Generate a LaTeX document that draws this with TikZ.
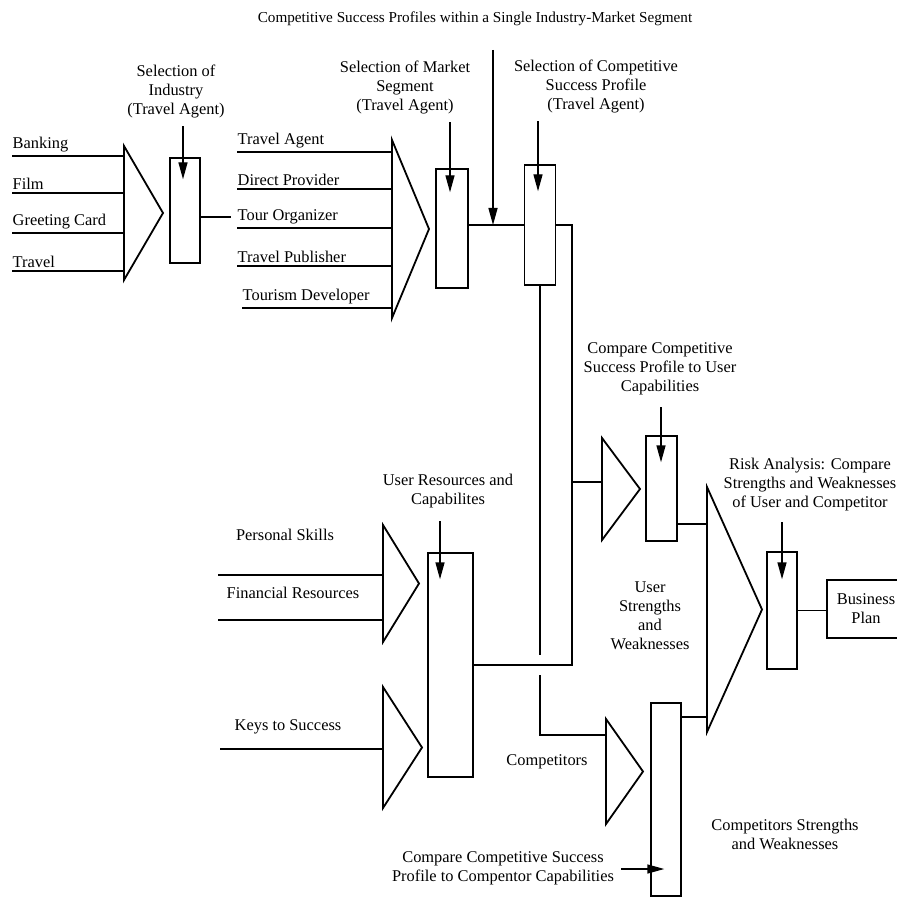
\documentclass[tikz,border=0pt]{standalone}
\usepackage{fontspec}
\setmainfont{Liberation Serif}
\usetikzlibrary{arrows.meta}

\begin{document}
\begin{tikzpicture}[x=0.5pt,y=-0.5pt,line width=.7pt,
    >={Triangle[length=8.5pt,width=4.5pt]},
    every node/.style={font=\fontsize{8.2}{9.5}\selectfont},
    lbl/.style={align=center},
    inlbl/.style={anchor=south west,inner xsep=0pt,inner ysep=1.5pt},
    blk/.style={draw,inner sep=0pt},
    funnel/.style={line width=.9pt,line join=miter},
    feed/.style={->}]
    \useasboundingbox (0,0) rectangle (896,897);

    % Title
    \node[font=\fontsize{7.6}{9}\selectfont] (title) at (475,19) {Competitive Success Profiles within a Single Industry-Market Segment};

    % Boxes
    \node[blk,minimum width=15pt,minimum height=52.5pt] (ind) at (185,210.5) {};
    \node[blk,minimum width=16pt,minimum height=59.5pt] (seg) at (452,228.5) {};
    \node[blk,minimum width=15.5pt,minimum height=60pt] (prof) at (540,225) {};
    \node[blk,minimum width=22.5pt,minimum height=112pt] (user) at (450.5,665) {};
    \node[blk,minimum width=15.5pt,minimum height=52.5pt] (cmpU) at (661.5,488.5) {};
    \node[blk,minimum width=15pt,minimum height=96.5pt] (cmpC) at (666,799.5) {};
    \node[blk,minimum width=15pt,minimum height=58.5pt] (risk) at (782,610.5) {};
    \node[blk,minimum width=39pt,minimum height=29pt,align=center] (plan) at (866,609) {Business\\Plan};

    % Funnels: name/left/top/bottom/tip
    \foreach \n/\x/\t/\b/\p in {fInd/124/146/280/163, fSeg/392/140/318/429,
        fUsr/383/525/642/419, fKey/383/687/808/422, fCmU/602/438/540/640,
        fCmC/606/719/824/643, fRsk/707/487/732/762}
        \draw[funnel] (\x,\t) coordinate (\n t) -- (\p,{(\t+\b)/2}) coordinate (\n p)
            -- (\x,\b) coordinate (\n b) -- cycle;

    % Industries
    \node[inlbl] (bank) at (12,156) {Banking};
    \node[inlbl] (film) at (12,193) {Film};
    \node[inlbl] (card) at (12,233) {Greeting Card};
    \node[inlbl] (trav) at (12,271) {Travel};
    \foreach \i in {bank,film,card,trav}
        \draw (\i.south west) -- (\i.south west -| fIndt);

    % Market segments
    \node[inlbl] (agent) at (237,152) {Travel Agent};
    \node[inlbl] (direct) at (237,189) {Direct Provider};
    \node[inlbl] (tour) at (237,228) {Tour Organizer};
    \node[inlbl] (publ) at (237,266) {Travel Publisher};
    \node[inlbl] (devel) at (242,308) {Tourism Developer};
    \foreach \i in {agent,direct,tour,publ,devel}
        \draw (\i.south west) -- (\i.south west -| fSegt);
    \draw (ind.east |- tour.west) -- ([xshift=-3pt]tour.west);

    % User inputs
    \node (skill) at (285,535) {Personal Skills};
    \node (money) at (293,593) {Financial Resources};
    \node (keys) at (288,727) {Keys to Success};
    \coordinate (inSkill) at (218,575);
    \coordinate (inMoney) at (218,620);
    \coordinate (inKeys) at (220,749);
    \draw (inSkill) -- (inSkill -| fUsrt);
    \draw (inMoney) -- (inMoney -| fUsrt);
    \draw (inKeys) -- (inKeys -| fKeyt);

    % Labels over the boxes
    \node[lbl] (indL) at (176,92) {Selection of\\Industry\\(Travel Agent)};
    \node[lbl] (segL) at (405,88) {Selection of Market\\Segment\\(Travel Agent)};
    \node[lbl] (profL) at (596,87) {Selection of Competitive\\Success Profile\\(Travel Agent)};
    \node[lbl] (userL) at (448,491) {User Resources and\\Capabilites};
    \node[lbl] (cmpUL) at (660,369) {Compare Competitive\\Success Profile to User\\Capabilities};
    \node[lbl] (riskL) at (810,485) {Risk Analysis: Compare\\Strengths and Weaknesses\\of User and Competitor};
    \node[lbl] (usw) at (650,616) {User\\Strengths\\and\\Weaknesses};
    \node (comp) at (547,762) {Competitors};
    \node[lbl] (csw) at (785,834) {Competitors Strengths\\and Weaknesses};
    \node[lbl] (cmpCL) at (503,868) {Compare Competitive Success\\Profile to Compentor Capabilities};

    % Arrows into the boxes
    \draw[feed] (ind.north) ++(-1pt,15.5pt) -- ++(0,-26.5pt);
    \draw[feed] (seg.north) ++(-1pt,23pt) -- ++(0,-35pt);
    \draw[feed] (prof.north) ++(-1pt,21.5pt) -- ++(0,-35pt);
    \draw[feed] (user.north) ++(-5.25pt,15.5pt) -- ++(0,-29pt);
    \draw[feed] (cmpU.north) ++(-.25pt,14pt) -- ++(0,-27.5pt);
    \draw[feed] (risk.north) ++(0,14.5pt) -- ++(0,-28.5pt);
    \draw[feed] (cmpC.west) ++(-14.5pt,-34.75pt) -- ++(21.5pt,0);

    % Connections
    \coordinate (mktIn) at (493,225);
    \draw (seg.east |- prof.west) -- (prof.west);
    \draw[feed] (mktIn) ++(0,87.5pt) -- (mktIn);
    \coordinate (bus) at (572,225);
    \draw (prof.east) -- (bus) -- (bus |- user.east) -- (user.east);
    \coordinate (cmpUin) at (602,482);
    \draw (bus |- cmpUin) -- (cmpUin);
    \coordinate (hopT) at (0,655);
    \coordinate (hopB) at (0,675);
    \coordinate (cmpCin) at (606,735);
    \draw (prof.south) -- (prof.south |- hopT);
    \draw (prof.south |- hopB) |- (cmpCin);
    \coordinate (rskA) at (707,524);
    \coordinate (rskB) at (707,717);
    \draw (cmpU.east |- rskA) -- (rskA);
    \draw (cmpC.east |- rskB) -- (rskB);
    \draw (risk.east) -- (risk.east -| plan.west);
\end{tikzpicture}
\end{document}
